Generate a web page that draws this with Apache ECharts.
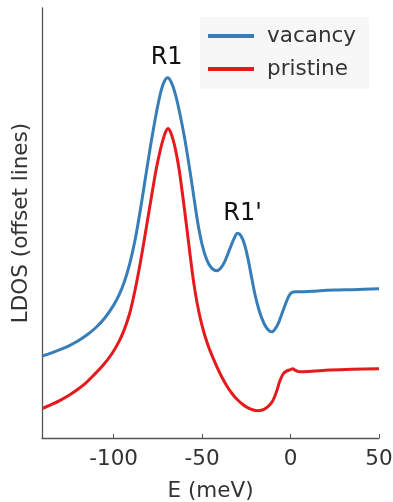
<!DOCTYPE html>
<html>
<head>
<meta charset="utf-8">
<script src="https://cdn.jsdelivr.net/npm/echarts@6/dist/echarts.min.js"></script>
<style>html,body{margin:0;padding:0;background:#fff}#c{width:393px;height:502px}</style>
</head>
<body>
<div id="c"></div>
<script>
// Energies (meV) and offset LDOS values (arbitrary units)
const vacancyE = [-140,-135,-130,-125,-120,-115,-110,-105,-100,-97,-94,-91,-88,-85,-82,-79,-76,-73.5,-71.5,-69.5,-67.5,-65,-62.5,-60,-57.5,-55,-52.5,-50,-47.5,-45,-42,-39.5,-37,-34.5,-32,-30,-28,-26,-24,-22,-20,-18,-16,-14,-12,-10.5,-9,-7,-5,-3,-1,0.5,3,8,15,25,35,50];
const vacancyV = [19.1,19.8,20.6,21.5,22.6,24.0,25.7,27.9,30.9,33.2,36.3,40.4,45.8,52.8,60.6,68.3,75.3,80.2,82.8,83.8,82.8,79.8,75.3,70.0,63.8,57.0,50.2,45.0,41.6,39.7,38.9,39.5,41.2,43.8,46.3,47.6,47.0,45.0,41.6,37.3,33.2,30.0,27.6,25.9,24.9,24.7,25.2,26.6,28.8,31.0,33.0,33.8,34.0,34.0,34.2,34.4,34.5,34.7];
const pristineE = [-140,-135,-130,-125,-120,-116,-112,-106,-101,-97,-94,-91,-88,-85,-82,-79,-76,-73.5,-71.5,-70.3,-69.3,-68,-66.5,-65,-63,-61,-59,-57.5,-56,-54.5,-53,-51,-49,-47,-45,-42,-39,-36,-33,-30,-27,-24,-21,-18.5,-16,-14,-12,-10,-8,-6,-4,-2,0,1.2,2.5,4,6,12,22,35,50];
const pristineV = [6.9,7.8,8.8,10.0,11.4,12.7,14.3,16.9,19.6,22.4,25.2,28.9,34.2,40.6,47.8,55.2,62.4,67.2,70.2,71.5,72.0,71.3,69.5,67.0,62.5,56.5,50.0,45.0,40.0,35.5,31.8,27.8,24.6,22.0,19.8,16.9,14.3,12.1,10.3,8.9,7.8,7.0,6.5,6.35,6.5,6.9,7.6,8.7,10.7,13.3,15.0,15.6,15.9,16.1,15.8,15.5,15.4,15.5,15.8,16.0,16.1];
const xTicks = [-100,-50,0,50];
const seriesNames = ['vacancy','pristine'];
const peakLabels = ['R1', "R1'"];
const peakE = [-69.5, -30];

const zip = (a,b) => a.map((x,i)=>[x,b[i]]);
const font = "'DejaVu Sans', sans-serif";
const peakMarks = peakLabels.map((t,i)=>{
  const idx = vacancyE.indexOf(peakE[i]);
  return {coord:[peakE[i], vacancyV[idx]], label:{formatter:t, offset:[i===0?-1:5,0]}};
});

const chart = echarts.init(document.getElementById('c'), null, {renderer:'canvas'});
chart.setOption({
  animation:false,
  backgroundColor:'#fff',
  grid:{left:42,right:14,top:8,bottom:64,containLabel:false,outerBoundsMode:'none'},
  legend:{
    data:seriesNames,
    orient:'vertical',
    left:200, top:17,
    backgroundColor:'#f7f7f7',
    padding:[8,13,9,8],
    itemGap:11,
    itemWidth:46, itemHeight:4,
    icon:'rect',
    textStyle:{fontFamily:font,fontSize:21.5,color:'#333',padding:[0,0,0,8]}
  },
  xAxis:{
    type:'value', min:-140.5, max:50,
    name:'E (meV)', nameLocation:'middle', nameGap:42,
    nameTextStyle:{fontFamily:font,fontSize:21.5,color:'#333'},
    axisLine:{show:true,onZero:false,lineStyle:{color:'#555',width:1.3}},
    axisTick:{show:true,inside:true,length:4,customValues:xTicks,lineStyle:{color:'#555'}},
    axisLabel:{customValues:xTicks,fontFamily:font,fontSize:21.5,color:'#333',margin:10},
    splitLine:{show:false}
  },
  yAxis:{
    type:'value', min:0, max:100,
    name:'LDOS (offset lines)', nameLocation:'middle', nameGap:10,
    nameTextStyle:{fontFamily:font,fontSize:21.5,color:'#333'},
    axisLine:{show:true,onZero:false,lineStyle:{color:'#555',width:1.3}},
    axisTick:{show:false}, axisLabel:{show:false}, splitLine:{show:false}
  },
  series:[
    {name:seriesNames[0],type:'line',data:zip(vacancyE,vacancyV),smooth:0.3,showSymbol:false,symbol:'none',
     lineStyle:{color:'#377eb8',width:3},itemStyle:{color:'#377eb8'},
     markPoint:{symbol:'circle',symbolSize:0,data:peakMarks,
       label:{show:true,position:'top',distance:8,fontFamily:font,fontSize:24,color:'#111'}}},
    {name:seriesNames[1],type:'line',data:zip(pristineE,pristineV),smooth:0.3,showSymbol:false,symbol:'none',
     lineStyle:{color:'#e41a1c',width:3},itemStyle:{color:'#e41a1c'}}
  ]
});
</script>
</body>
</html>
